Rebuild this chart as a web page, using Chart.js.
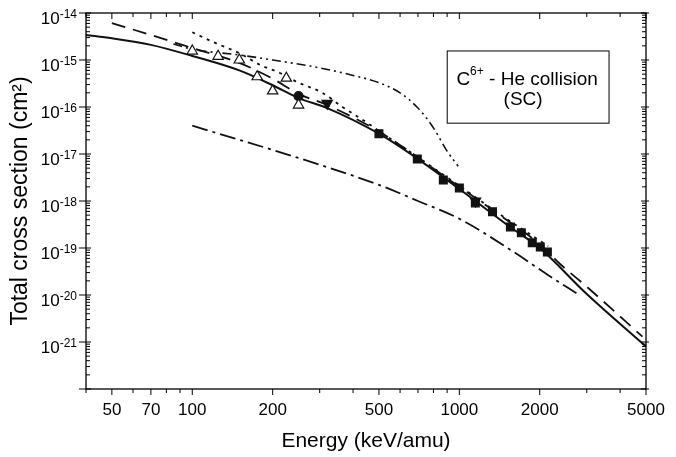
<!DOCTYPE html>
<html>
<head>
<meta charset="utf-8">
<script src="https://cdn.jsdelivr.net/npm/chart.js@4.4.1/dist/chart.umd.min.js"></script>
<style>
  html, body { margin: 0; padding: 0; background: #fff; }
  #wrap { width: 676px; height: 457px; }
</style>
</head>
<body>
<div id="wrap"><canvas id="xsChart" width="676" height="457"></canvas></div>
<script>
// energies in keV/amu, cross sections in cm^2
const solidE = [40, 50, 70, 100, 150, 200, 250, 320, 500, 700, 1000, 1550, 2000, 3000, 5000];
const solidS = [3.4e-15, 2.9e-15, 2.1e-15, 1.22e-15, 6.0e-16, 2.9e-16, 1.55e-16, 9.5e-17, 2.7e-17, 7.8e-18, 1.8e-18, 2.8e-19, 1.0e-19, 1.05e-20, 8e-22];

const dashE = [50, 70, 100, 150, 200, 250, 320, 500, 1000, 1500, 2000, 2400, 3000, 4850];
const dashS = [6.1e-15, 3.4e-15, 1.8e-15, 8.7e-16, 4.0e-16, 1.9e-16, 1.1e-16, 3.0e-17, 2.0e-18, 4.0e-19, 1.2e-19, 4.4e-20, 1.5e-20, 1.3e-21];

const dotE = [100, 120, 150, 180, 213, 247, 307, 365, 408, 452, 500, 700, 1000, 1500, 2150];
const dotS = [3.9e-15, 2.4e-15, 1.4e-15, 7.8e-16, 5.3e-16, 3.4e-16, 2.0e-16, 1.0e-16, 6.7e-17, 4.6e-17, 3.1e-17, 8.5e-18, 2.1e-18, 4.2e-19, 1.1e-19];

const upperE = [85, 100, 150, 200, 300, 400, 500, 600, 700, 800, 900, 990];
const upperS = [2.2e-15, 1.7e-15, 1.28e-15, 1.0e-15, 6.8e-16, 4.7e-16, 3.3e-16, 2.0e-16, 9.5e-17, 3.6e-17, 1.15e-17, 5.5e-18];

const lowerE = [100, 200, 300, 500, 700, 1000, 1600, 2140, 2770];
const lowerS = [4.0e-17, 1.22e-17, 5.9e-18, 2.2e-18, 1.0e-18, 4.2e-19, 8.2e-20, 2.7e-20, 1.05e-20];

// experimental points
const triE = [100, 125, 150, 175, 200, 225, 250];
const triS = [1.55e-15, 1.2e-15, 1.0e-15, 4.4e-16, 2.2e-16, 4.1e-16, 1.1e-16];
const circE = [250];
const circS = [1.7e-16];
const downE = [320, 1150];
const downS = [1.2e-16, 1.0e-18];
const sqE = [500, 696, 871, 1000, 1148, 1331, 1553, 1707, 1875, 2010, 2136];
const sqS = [2.7e-17, 7.8e-18, 2.8e-18, 1.9e-18, 9.1e-19, 5.9e-19, 2.8e-19, 2.1e-19, 1.3e-19, 1.05e-19, 8.2e-20];

// axes
const xTickValues = [40, 50, 60, 70, 80, 90, 100, 200, 300, 400, 500, 600, 700, 800, 900, 1000, 2000, 3000, 4000, 5000];
const xTickLabels = [50, 70, 100, 200, 500, 1000, 2000, 5000];
const yExponents = [-14, -15, -16, -17, -18, -19, -20, -21];

const FONT = "'Liberation Sans', Arial, Helvetica, sans-serif";
const pts = (xs, ys) => xs.map((x, i) => ({ x, y: ys[i] }));

// frame, inward/outward ticks, superscripted y labels and the boxed note
const framePlugin = {
  id: 'framePlugin',
  afterDraw(chart) {
    const { ctx, chartArea: a, scales: { x, y } } = chart;
    ctx.save();
    ctx.strokeStyle = '#000';
    ctx.lineWidth = 1.3;
    ctx.strokeRect(a.left, a.top, a.right - a.left, a.bottom - a.top);

    ctx.beginPath();
    ctx.lineWidth = 1;
    xTickValues.forEach(v => {
      const px = x.getPixelForValue(v);
      const len = xTickLabels.includes(v) ? 6 : 4;
      ctx.moveTo(px, a.bottom); ctx.lineTo(px, a.bottom + len);
      ctx.moveTo(px, a.top); ctx.lineTo(px, a.top + len);
    });
    for (let e = -22; e <= -14; e++) {
      for (let m = 1; m <= 9; m++) {
        if (e === -14 && m > 1) break;
        const py = y.getPixelForValue(m * Math.pow(10, e));
        if (m === 1) {
          ctx.moveTo(a.left - 7, py); ctx.lineTo(a.left + 5, py);
          ctx.moveTo(a.right - 5, py); ctx.lineTo(a.right + 3, py);
        } else {
          ctx.moveTo(a.left, py); ctx.lineTo(a.left + 4, py);
          ctx.moveTo(a.right - 4, py); ctx.lineTo(a.right, py);
        }
      }
    }
    ctx.stroke();

    // y labels: 10 with superscript exponent
    ctx.fillStyle = '#000';
    ctx.textBaseline = 'alphabetic';
    yExponents.forEach(e => {
      const py = y.getPixelForValue(Math.pow(10, e));
      const sup = String(e);
      ctx.font = '12px ' + FONT;
      const ws = ctx.measureText(sup).width;
      ctx.textAlign = 'left';
      ctx.fillText(sup, a.left - 9 - ws, py + 5);
      ctx.font = '17px ' + FONT;
      ctx.textAlign = 'right';
      ctx.fillText('10', a.left - 9 - ws, py + 11);
    });

    // note box
    const w = a.right - a.left, h = a.bottom - a.top;
    const bx = a.left + 0.645 * w, by = a.top + 0.101 * h;
    const bw = 0.289 * w, bh = 0.192 * h;
    ctx.lineWidth = 1;
    ctx.strokeRect(bx, by, bw, bh);
    const cx = bx + bw / 2 - 1;
    ctx.textAlign = 'left';
    ctx.font = '19px ' + FONT;
    const wC = ctx.measureText('C').width;
    const wRest = ctx.measureText(' - He collision').width;
    ctx.font = '12px ' + FONT;
    const wSup = ctx.measureText('6+').width;
    let tx = cx - (wC + wSup + wRest) / 2;
    ctx.font = '19px ' + FONT;
    ctx.fillText('C', tx, by + 34);
    ctx.font = '12px ' + FONT;
    ctx.fillText('6+', tx + wC, by + 24);
    ctx.font = '19px ' + FONT;
    ctx.fillText(' - He collision', tx + wC + wSup, by + 34);
    ctx.textAlign = 'center';
    ctx.fillText('(SC)', cx - 4, by + 54);
    ctx.restore();
  }
};

const lineSet = (label, xs, ys, dash, width) => ({
  label,
  data: pts(xs, ys),
  showLine: true,
  borderColor: '#111',
  borderWidth: width,
  borderDash: dash,
  pointRadius: 0,
  fill: false,
  cubicInterpolationMode: 'monotone'
});

const markerSet = (label, xs, ys, style, radius, filled, rotation) => ({
  label,
  data: pts(xs, ys),
  showLine: false,
  pointStyle: style,
  pointRadius: radius,
  pointRotation: rotation || 0,
  pointBorderWidth: 1.2,
  pointBorderColor: '#111',
  pointBackgroundColor: filled ? '#111' : '#fff'
});

document.addEventListener('DOMContentLoaded', () => {
  try {
    const ctx = document.getElementById('xsChart').getContext('2d');
    Chart.defaults.color = '#000';
    Chart.defaults.font.family = FONT;

    new Chart(ctx, {
      type: 'line',
      data: {
        datasets: [
          markerSet('Open triangles', triE, triS, 'triangle', 6, false),
          markerSet('Circle', circE, circS, 'circle', 4.5, true),
          markerSet('Down triangles', downE, downS, 'triangle', 6, true, 180),
          markerSet('Squares', sqE, sqS, 'rect', 5.5, true),
          lineSet('Solid', solidE, solidS, [], 2),
          lineSet('Dashed', dashE, dashS, [14, 8], 1.8),
          lineSet('Dotted', dotE, dotS, [3, 5], 1.8),
          lineSet('Dash-dot-dot', upperE, upperS, [9, 4, 2, 4, 2, 4], 1.6),
          lineSet('Dash-dot', lowerE, lowerS, [16, 5, 3, 5], 1.8)
        ]
      },
      options: {
        responsive: false,
        animation: false,
        layout: { padding: { top: 13, right: 30, left: 0, bottom: 0 } },
        plugins: {
          legend: { display: false },
          tooltip: { enabled: false }
        },
        scales: {
          x: {
            type: 'logarithmic',
            min: 40,
            max: 5000,
            grid: { display: false },
            border: { display: false },
            afterBuildTicks: scale => { scale.ticks = xTickValues.map(v => ({ value: v })); },
            afterFit: scale => { scale.height = 68; },
            ticks: {
              autoSkip: false,
              maxRotation: 0,
              padding: 3,
              font: { size: 17 },
              callback: v => xTickLabels.includes(v) ? String(v) : ''
            },
            title: {
              display: true,
              text: 'Energy (keV/amu)',
              font: { size: 21 },
              padding: { top: 0, bottom: 3 }
            }
          },
          y: {
            type: 'logarithmic',
            min: 1e-22,
            max: 1e-14,
            grid: { display: false },
            border: { display: false },
            ticks: { display: false },
            afterFit: scale => { scale.width = 86; },
            title: {
              display: true,
              text: 'Total cross section (cm²)',
              font: { size: 23 },
              padding: { top: 7, bottom: 0 }
            }
          }
        }
      },
      plugins: [framePlugin]
    });
  } catch (err) {
    console.error('Error rendering chart:', err);
  }
});
</script>
</body>
</html>
